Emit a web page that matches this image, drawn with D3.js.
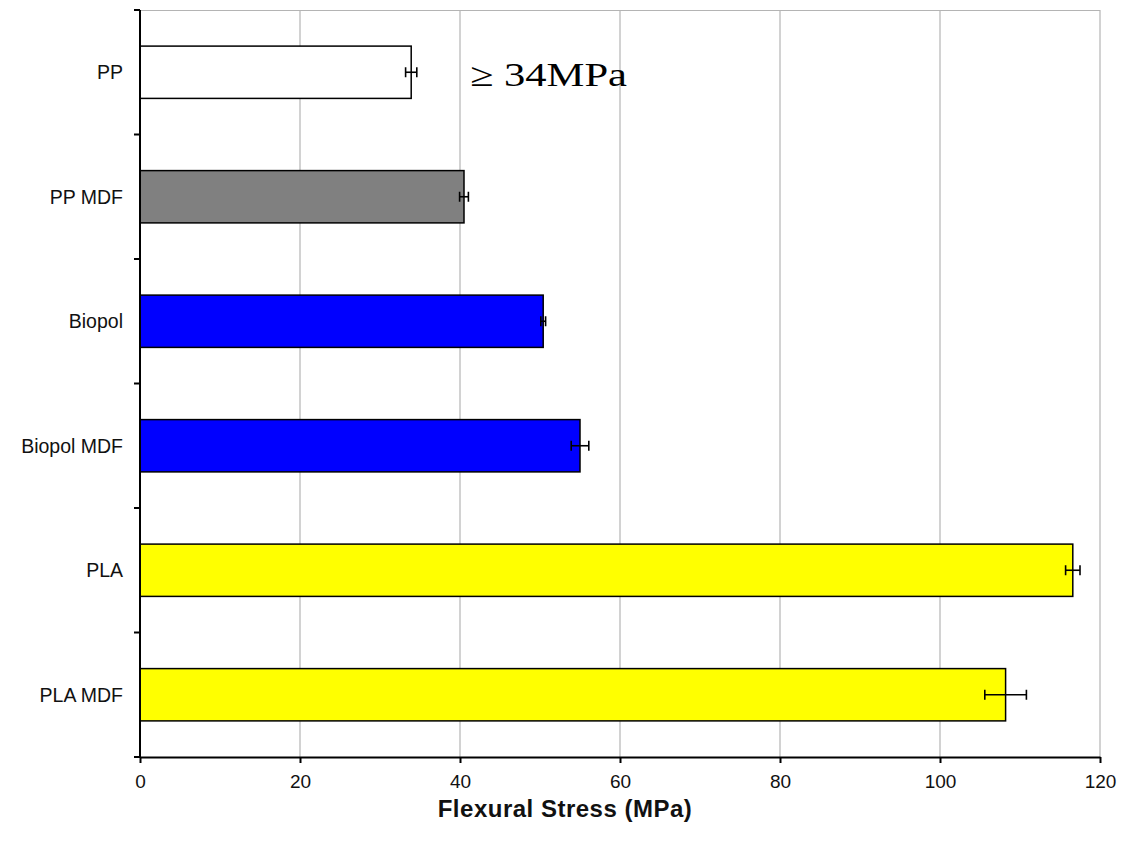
<!DOCTYPE html>
<html><head><meta charset="utf-8">
<script src="https://cdn.jsdelivr.net/npm/d3@7"></script>
<style>body{margin:0;background:#fff}svg{display:block}</style>
</head><body>
<script>
const categories = ["PP", "PP MDF", "Biopol", "Biopol MDF", "PLA", "PLA MDF"];
const values = [33.9, 40.5, 50.4, 55.0, 116.6, 108.2];
const errors = [0.7, 0.55, 0.3, 1.1, 0.9, 2.6];
const colors = ["#ffffff", "#808080", "#0000ff", "#0000ff", "#ffff00", "#ffff00"];
const xTicks = [0, 20, 40, 60, 80, 100, 120];
const annotation = "≥ 34MPa";

const W = 1124, H = 844;
const m = {l: 140, t: 10, r: 24, b: 87};
const svg = d3.select("body").append("svg").attr("width", W).attr("height", H);
const x = d3.scaleLinear().domain([0, 120]).range([m.l, W - m.r]);
const y = d3.scaleBand().domain(categories).range([m.t, H - m.b]).paddingInner(0.58).paddingOuter(0.29);
const y0 = H - m.b;
const sans = "Liberation Sans, Arial, sans-serif";

// grid
svg.append("g").selectAll("line").data(xTicks.filter(d => d > 0)).join("line")
  .attr("x1", d => x(d)).attr("x2", d => x(d)).attr("y1", m.t).attr("y2", y0)
  .attr("stroke", "#b4b4b4").attr("stroke-width", 1.2);
svg.append("line").attr("x1", m.l).attr("x2", x(120)).attr("y1", m.t + 0.5).attr("y2", m.t + 0.5)
  .attr("stroke", "#b4b4b4").attr("stroke-width", 1.2);

// bars
svg.append("g").selectAll("rect").data(categories).join("rect")
  .attr("x", x(0)).attr("y", d => y(d))
  .attr("width", (d, i) => x(values[i]) - x(0)).attr("height", y.bandwidth())
  .attr("fill", (d, i) => colors[i]).attr("stroke", "#000").attr("stroke-width", 1.5);

// error bars
const eg = svg.append("g").attr("stroke", "#000").attr("stroke-width", 1.6);
categories.forEach((c, i) => {
  const cy = y(c) + y.bandwidth() / 2;
  const a = x(values[i] - errors[i]), b = x(values[i] + errors[i]);
  eg.append("line").attr("x1", a).attr("x2", b).attr("y1", cy).attr("y2", cy);
  eg.append("line").attr("x1", a).attr("x2", a).attr("y1", cy - 5).attr("y2", cy + 5);
  eg.append("line").attr("x1", b).attr("x2", b).attr("y1", cy - 5).attr("y2", cy + 5);
});

// x axis
const xa = svg.append("g").attr("transform", `translate(0,${y0})`)
  .call(d3.axisBottom(x).tickValues(xTicks).tickSize(6).tickSizeOuter(0).tickPadding(12));
xa.select(".domain").attr("stroke", "#000").attr("stroke-width", 2);
xa.selectAll(".tick line").attr("stroke", "#000").attr("stroke-width", 2);
xa.selectAll("text").attr("font-family", sans).attr("font-size", 19).attr("fill", "#111");

// y axis
const yBounds = d3.range(categories.length + 1).map(i => m.t + i * (y0 - m.t) / categories.length);
svg.append("line").attr("x1", m.l).attr("x2", m.l).attr("y1", m.t).attr("y2", y0)
  .attr("stroke", "#000").attr("stroke-width", 2);
svg.append("g").selectAll("line").data(yBounds).join("line")
  .attr("x1", m.l - 6).attr("x2", m.l).attr("y1", d => d).attr("y2", d => d)
  .attr("stroke", "#000").attr("stroke-width", 2);
svg.append("g").selectAll("text").data(categories).join("text")
  .attr("x", 123).attr("y", d => y(d) + y.bandwidth() / 2).attr("dy", "0.35em")
  .attr("text-anchor", "end").attr("font-family", sans)
  .attr("font-size", 19.5).attr("fill", "#111").text(d => d);

// axis title
svg.append("text").attr("x", 565).attr("y", 817).attr("text-anchor", "middle")
  .attr("font-family", sans).attr("font-weight", "bold")
  .attr("font-size", 24).attr("letter-spacing", "0.5px").attr("fill", "#111").text("Flexural Stress (MPa)");

// annotation
svg.append("text").attr("x", 470).attr("y", 86)
  .attr("font-family", "Liberation Serif, Times New Roman, serif").attr("font-size", 33)
  .attr("textLength", 157).attr("lengthAdjust", "spacingAndGlyphs")
  .attr("fill", "#000").text(annotation);
</script>
</body></html>
